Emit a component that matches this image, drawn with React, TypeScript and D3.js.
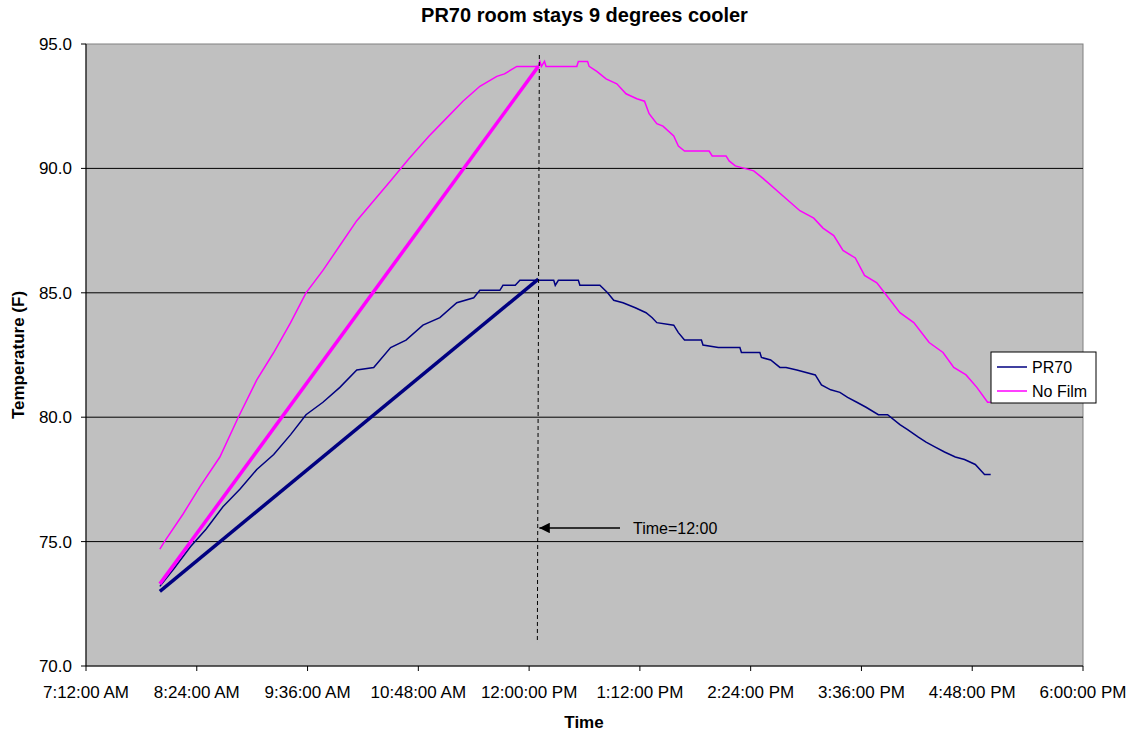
import * as d3 from "d3";

type Pt = [string, number];

// readings, "HH:MM" -> deg F
const noFilm: Pt[] = [
  ["08:00", 74.7], ["08:03", 75.0], ["08:15", 76.1], ["08:26", 77.2], ["08:39", 78.4],
  ["08:51", 80.0], ["09:03", 81.5], ["09:14", 82.6], ["09:25", 83.8], ["09:35", 85.0],
  ["09:46", 85.9], ["09:57", 86.9], ["10:08", 87.9], ["10:19", 88.7], ["10:30", 89.5],
  ["10:42", 90.4], ["10:55", 91.3], ["11:06", 92.0], ["11:17", 92.7], ["11:28", 93.3],
  ["11:39", 93.7], ["11:44", 93.8], ["11:52", 94.1], ["12:06", 94.1], ["12:07", 94.3],
  ["12:08", 94.1], ["12:10", 94.3], ["12:11", 94.1], ["12:31", 94.1], ["12:32", 94.3],
  ["12:38", 94.3], ["12:39", 94.1], ["12:44", 93.9], ["12:50", 93.6], ["12:57", 93.4],
  ["13:03", 93.0], ["13:10", 92.8], ["13:15", 92.7], ["13:18", 92.2], ["13:23", 91.8],
  ["13:27", 91.7], ["13:34", 91.3], ["13:37", 90.9], ["13:41", 90.7], ["13:57", 90.7],
  ["13:59", 90.5], ["14:08", 90.5], ["14:10", 90.3], ["14:14", 90.1], ["14:26", 89.9],
  ["14:32", 89.6], ["14:43", 89.0], ["14:56", 88.3], ["15:05", 88.0], ["15:11", 87.6],
  ["15:18", 87.3], ["15:24", 86.7], ["15:32", 86.4], ["15:38", 85.7], ["15:46", 85.4],
  ["15:51", 85.0], ["16:01", 84.2], ["16:10", 83.8], ["16:20", 83.0], ["16:29", 82.6],
  ["16:36", 82.0], ["16:44", 81.7], ["16:51", 81.2], ["16:58", 80.6], ["17:00", 80.6],
];

const pr70: Pt[] = [
  ["08:00", 73.2], ["08:09", 73.9], ["08:20", 74.8], ["08:30", 75.5], ["08:41", 76.4],
  ["08:52", 77.1], ["09:03", 77.9], ["09:14", 78.5], ["09:25", 79.3], ["09:35", 80.1],
  ["09:46", 80.6], ["09:57", 81.2], ["10:08", 81.9], ["10:19", 82.0], ["10:30", 82.8],
  ["10:40", 83.1], ["10:51", 83.7], ["11:02", 84.0], ["11:13", 84.6], ["11:24", 84.8],
  ["11:28", 85.1], ["11:41", 85.1], ["11:43", 85.3], ["11:51", 85.3], ["11:54", 85.5],
  ["12:16", 85.5], ["12:17", 85.3], ["12:19", 85.5], ["12:32", 85.5], ["12:33", 85.3],
  ["12:46", 85.3], ["12:51", 85.0], ["12:55", 84.7], ["13:01", 84.6], ["13:09", 84.4],
  ["13:16", 84.2], ["13:20", 84.0], ["13:23", 83.8], ["13:34", 83.7], ["13:37", 83.4],
  ["13:41", 83.1], ["13:52", 83.1], ["13:53", 82.9], ["14:03", 82.8], ["14:17", 82.8],
  ["14:18", 82.6], ["14:30", 82.6], ["14:31", 82.4], ["14:37", 82.3], ["14:43", 82.0],
  ["14:47", 82.0], ["14:54", 81.9], ["15:06", 81.7], ["15:10", 81.3], ["15:16", 81.1],
  ["15:22", 81.0], ["15:27", 80.8], ["15:33", 80.6], ["15:39", 80.4], ["15:47", 80.1],
  ["15:53", 80.1], ["16:01", 79.7], ["16:06", 79.5], ["16:13", 79.2], ["16:18", 79.0],
  ["16:24", 78.8], ["16:30", 78.6], ["16:37", 78.4], ["16:43", 78.3], ["16:50", 78.1],
  ["16:56", 77.7], ["17:00", 77.7],
];

// the thick straight "rise" lines
const noFilmRise: Pt[] = [["08:00", 73.3], ["12:06", 94.1]];
const pr70Rise: Pt[] = [["08:00", 73.0], ["12:06", 85.55]];

const xTicks = ["07:12", "08:24", "09:36", "10:48", "12:00", "13:12", "14:24", "15:36", "16:48", "18:00"];
const yTicks = [70, 75, 80, 85, 90, 95];

const W = 1135, H = 735;
const m = { left: 86, right: 1083, top: 44, bottom: 666 };
const font = "Arial, 'Liberation Sans', sans-serif";
const fs = 17;

const parse = d3.timeParse("%H:%M");
const t = (s: string) => parse(s) as Date;

export default function App() {
  const x = d3.scaleTime().domain([t("07:12"), t("18:00")]).range([m.left, m.right]);
  const y = d3.scaleLinear().domain([70, 95]).range([m.bottom, m.top]);
  const line = d3.line<Pt>().x(d => x(t(d[0]))).y(d => y(d[1]));
  const fmtX = d3.timeFormat("%-I:%M:%S %p");
  const fmtY = d3.format(".1f");

  const noon = x(t("12:06"));
  const arrowY = 528;

  return (
    <svg width={W} height={H} style={{ position: "absolute", left: 0, top: 0, background: "#fff" }} fontFamily={font}>
      <defs>
        <marker id="arr" viewBox="0 0 10 10" refX="10" refY="5" markerWidth="7" markerHeight="7" orient="auto">
          <path d="M0,0 L10,5 L0,10 Z" fill="#000" />
        </marker>
      </defs>
      <text x={(m.left + m.right) / 2} y={22} textAnchor="middle" fontSize={20} fontWeight="bold">
        PR70 room stays 9 degrees cooler
      </text>

      <rect x={m.left} y={m.top} width={m.right - m.left} height={m.bottom - m.top} fill="#C0C0C0" stroke="#808080" />

      {yTicks.map(v => (
        <g key={v}>
          {v > 70 && v < 95 && <line x1={m.left} x2={m.right} y1={y(v)} y2={y(v)} stroke="#000" />}
          <line x1={m.left - 5} x2={m.left} y1={y(v)} y2={y(v)} stroke="#000" />
          <text x={m.left - 14} y={y(v) + 6} textAnchor="end" fontSize={fs}>{fmtY(v)}</text>
        </g>
      ))}
      {xTicks.map(s => (
        <g key={s}>
          <line x1={x(t(s))} x2={x(t(s))} y1={m.bottom} y2={m.bottom + 5} stroke="#000" />
          <text x={x(t(s))} y={698} textAnchor="middle" fontSize={fs}>{fmtX(t(s))}</text>
        </g>
      ))}
      <line x1={m.left} x2={m.left} y1={m.top} y2={m.bottom} stroke="#000" />
      <line x1={m.left} x2={m.right} y1={m.bottom} y2={m.bottom} stroke="#000" />

      <path d={line(noFilm) ?? ""} fill="none" stroke="#FF00FF" strokeWidth={1.5} />
      <path d={line(pr70) ?? ""} fill="none" stroke="#000080" strokeWidth={1.5} />
      <path d={line(noFilmRise) ?? ""} fill="none" stroke="#FF00FF" strokeWidth={3.5} />
      <path d={line(pr70Rise) ?? ""} fill="none" stroke="#000080" strokeWidth={3.5} />

      <line x1={noon + 1} y1={55} x2={noon - 1} y2={643} stroke="#000" strokeDasharray="4,3" />
      <line x1={620} y1={arrowY} x2={noon + 1} y2={arrowY} stroke="#000" strokeWidth={1.5} markerEnd="url(#arr)" />
      <text x={633} y={arrowY + 6} fontSize={fs - 1}>Time=12:00</text>

      <g transform="translate(991,352)">
        <rect width={105} height={51} fill="#fff" stroke="#000" />
        <line x1={6} x2={36} y1={15} y2={15} stroke="#000080" strokeWidth={1.5} />
        <text x={41} y={21} fontSize={fs - 1}>PR70</text>
        <line x1={6} x2={36} y1={39} y2={39} stroke="#FF00FF" strokeWidth={1.5} />
        <text x={41} y={45} fontSize={fs - 1}>No Film</text>
      </g>

      <text x={584} y={728} textAnchor="middle" fontSize={fs} fontWeight="bold">Time</text>
      <text transform={`translate(24,${(m.top + m.bottom) / 2}) rotate(-90)`} textAnchor="middle" fontSize={fs} fontWeight="bold">
        Temperature (F)
      </text>
    </svg>
  );
}
